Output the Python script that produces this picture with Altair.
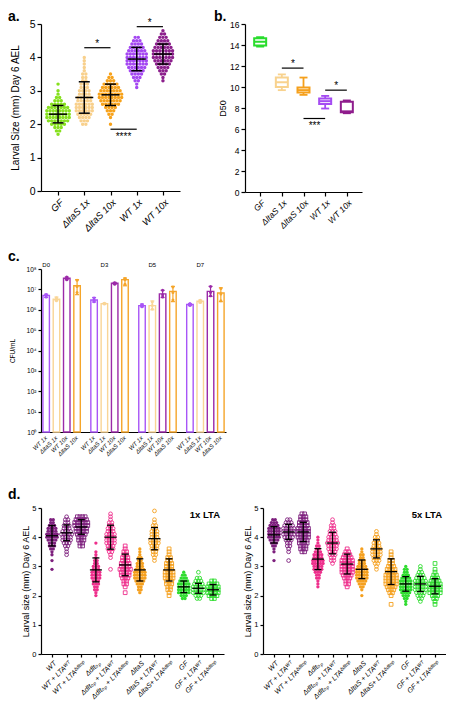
import altair as alt
import pandas as pd

FONT = "Liberation Sans"

# ---------------- panel a : larval size, scatter + mean/SD ----------------
A_GROUPS = ["GF", "ΔltaS 1x", "ΔltaS 10x", "WT 1x", "WT 10x"]
A_COLORS = ["#86e01e", "#f8d08c", "#f7a21b", "#a447f2", "#8c1f8c"]
A_BIN_START = [1.7, 2.0, 2.0, 3.1, 3.3]          # first 0.1-wide value bin per group
A_COUNTS = [
    [1, 2, 3, 5, 7, 8, 8, 8, 7, 5, 3, 2, 1, 1, 0, 1],
    [2, 3, 4, 5, 6, 6, 6, 5, 5, 4, 4, 3, 3, 2, 2, 2, 1, 1, 1, 1, 1],
    [1, 0, 1, 2, 3, 4, 6, 7, 8, 8, 7, 6, 5, 3, 2, 1],
    [1, 1, 2, 3, 4, 5, 6, 7, 7, 7, 7, 6, 5, 4, 3, 2],
    [1, 1, 2, 3, 4, 5, 6, 7, 7, 7, 6, 5, 4, 3, 2, 1],
]
A_MEAN = [2.30, 2.80, 2.88, 3.95, 4.10]
A_SD = [0.26, 0.47, 0.32, 0.35, 0.30]
A_SIG_FROM = ["ΔltaS 1x", "WT 1x", "ΔltaS 10x"]
A_SIG_TO = ["ΔltaS 10x", "WT 10x", "WT 1x"]
A_SIG_Y = [4.29, 4.92, 1.85]
A_SIG_TEXT_Y = [4.40, 5.03, 1.62]
A_SIG_LABEL = ["*", "*", "****"]

# ---------------- panel b : D50 box plots ----------------
B_COLORS = ["#29dc2c", "#f8d28e", "#f5a01c", "#a54cf2", "#8f1d8d"]
B_MIN = [13.85, 9.70, 9.25, 7.95, 7.50]
B_Q1 = [13.95, 10.00, 9.48, 8.38, 7.60]
B_MED = [14.30, 10.45, 9.70, 8.65, 7.68]
B_Q3 = [14.65, 10.90, 9.95, 8.90, 8.60]
B_MAX = [14.75, 11.20, 10.90, 9.15, 8.72]
B_SIG_FROM = ["ΔltaS 1x", "WT 1x", "ΔltaS 10x"]
B_SIG_TO = ["ΔltaS 10x", "WT 10x", "WT 1x"]
B_SIG_Y = [11.8, 9.7, 7.0]
B_SIG_TEXT_Y = [12.2, 10.1, 6.3]
B_SIG_LABEL = ["*", "*", "***"]

# ---------------- panel c : CFU/mL over days ----------------
C_DAYS = ["D0", "D3", "D5", "D7"]
C_STRAINS = ["WT 1x", "ΔltaS 1x", "WT 10x", "ΔltaS 10x"]
C_COLORS = ["#a855f7", "#f9d596", "#9b2aa8", "#f5a52a"]
C_DAY_ANCHOR = ["WT 1x", "ΔltaS 1x", "ΔltaS 1x", "ΔltaS 1x"]
C_MEAN = [5.0e6, 3.3e6, 3.5e7, 1.5e7, 3.0e6, 2.0e6, 2.0e7, 3.0e7,
          1.6e6, 1.6e6, 6.0e6, 8.0e6, 1.8e6, 2.6e6, 8.0e6, 6.6e6]
C_LO = [4.0e6, 2.8e6, 3.0e7, 5.5e6, 2.4e6, 1.9e6, 1.8e7, 1.5e7,
        1.4e6, 1.0e6, 4.0e6, 2.5e6, 1.6e6, 2.2e6, 4.5e6, 2.5e6]
C_HI = [5.8e6, 4.2e6, 4.0e7, 3.0e7, 4.0e6, 2.1e6, 2.2e7, 3.6e7,
        1.9e6, 2.7e6, 9.0e6, 1.4e7, 2.0e6, 3.0e6, 1.4e7, 1.2e7]
C_REP1 = [4.2e6, 2.8e6, 3.0e7, 7.0e6, 2.5e6, 1.9e6, 1.8e7, 1.8e7,
          1.4e6, 1.1e6, 4.2e6, 3.0e6, 1.6e6, 2.3e6, 4.8e6, 2.8e6]
C_REP2 = [5.0e6, 3.3e6, 3.5e7, 1.4e7, 2.9e6, 2.0e6, 2.0e7, 3.0e7,
          1.6e6, 1.6e6, 5.5e6, 7.0e6, 1.8e6, 2.6e6, 7.0e6, 6.0e6]
C_REP3 = [5.6e6, 3.9e6, 4.0e7, 2.8e7, 3.8e6, 2.1e6, 2.1e7, 3.4e7,
          1.8e6, 2.4e6, 9.0e6, 1.3e7, 2.0e6, 2.9e6, 1.4e7, 1.1e7]

# ---------------- panel d : LTA supplementation ----------------
D_GROUPS = ["WT", "WT + LTAᵂᵀ", "WT + LTAᵟᵈˡᵗᵒᵖ",
            "Δdltₒₚ", "Δdltₒₚ + LTAᵂᵀ", "Δdltₒₚ + LTAᵟᵈˡᵗᵒᵖ",
            "ΔltaS", "ΔltaS + LTAᵂᵀ", "ΔltaS+ LTAᵟᵈˡᵗᵒᵖ",
            "GF", "GF + LTAᵂᵀ", "GF + LTAᵟᵈˡᵗᵒᵖ"]
D_COLORS = ["#7d1f7d", "#7d1f7d", "#7d1f7d", "#ee2f8c", "#ee2f8c", "#ee2f8c",
            "#f5a01f", "#f5a01f", "#f5a01f", "#2fdc2f", "#2fdc2f", "#2fdc2f"]
D_MARKERS = ["filled", "circle", "square", "filled", "circle", "square",
             "filled", "circle", "square", "filled", "circle", "square"]

D1_START = [2.9, 3.4, 3.7, 2.0, 2.9, 2.1, 2.1, 3.2, 2.0, 1.9, 1.9, 1.9]
D1_COUNTS = [
    [1, 0, 0, 1, 0, 1, 1, 2, 3, 3, 4, 5, 5, 4, 4, 3, 2, 2],
    [1, 1, 1, 2, 3, 4, 4, 5, 4, 3, 3, 2, 2, 1],
    [2, 2, 3, 3, 4, 5, 5, 6, 6, 5, 4],
    [1, 1, 2, 2, 3, 3, 4, 4, 4, 3, 3, 2, 2, 1, 1, 1, 0, 0, 1],
    [1, 0, 0, 0, 1, 1, 2, 3, 3, 4, 4, 4, 4, 3, 3, 2, 2, 1, 1, 1],
    [1, 0, 1, 2, 2, 3, 4, 4, 5, 4, 4, 3, 3, 2, 2, 1, 1],
    [1, 2, 2, 3, 4, 5, 5, 5, 4, 3, 3, 2, 2, 1, 1, 1],
    [1, 1, 2, 2, 3, 3, 4, 4, 3, 3, 3, 2, 2, 1, 1, 0, 0, 1],
    [1, 1, 2, 2, 3, 3, 4, 4, 4, 3, 3, 3, 2, 2, 1, 1, 1],
    [2, 3, 5, 5, 5, 5, 4, 3, 2, 1],
    [2, 3, 5, 5, 5, 4, 3, 2, 0, 1],
    [2, 4, 5, 5, 5, 4, 2],
]
D1_MEAN = [4.05, 4.15, 4.35, 2.88, 4.00, 3.05, 2.88, 3.95, 2.88, 2.30, 2.25, 2.20]
D1_SD = [0.35, 0.27, 0.25, 0.41, 0.41, 0.37, 0.38, 0.38, 0.38, 0.20, 0.17, 0.18]

D5_START = [3.2, 3.2, 3.5, 2.3, 3.1, 2.3, 2.0, 2.9, 1.7, 1.7, 1.8, 1.7]
D5_COUNTS = [
    [1, 0, 0, 1, 1, 2, 3, 4, 5, 5, 5, 5, 4, 3, 2],
    [1, 0, 0, 1, 1, 2, 2, 3, 4, 5, 5, 5, 4, 3, 2],
    [2, 3, 3, 4, 4, 5, 5, 5, 5, 4, 4, 3, 3, 2],
    [1, 1, 1, 2, 2, 3, 4, 4, 5, 5, 4, 4, 3, 2, 2, 1, 1, 1],
    [1, 2, 2, 3, 3, 4, 4, 5, 4, 4, 3, 3, 2, 2, 1, 1],
    [1, 2, 2, 3, 4, 5, 5, 5, 5, 5, 4, 3, 2, 1],
    [1, 0, 1, 2, 3, 4, 5, 5, 5, 5, 4, 3, 3, 2, 2, 1, 1],
    [1, 1, 2, 3, 3, 4, 4, 4, 3, 3, 2, 2, 1, 1],
    [1, 0, 0, 1, 2, 3, 4, 5, 5, 5, 5, 4, 4, 3, 2, 2, 1, 1, 1],
    [1, 1, 2, 3, 4, 5, 5, 5, 5, 4, 3, 2, 2, 1],
    [1, 2, 3, 4, 5, 5, 5, 5, 4, 3, 2, 1, 1],
    [1, 1, 2, 3, 5, 5, 5, 5, 4, 3, 2, 1, 1, 0, 1],
]
D5_MEAN = [4.08, 4.18, 4.18, 3.25, 3.80, 3.08, 2.90, 3.60, 2.82, 2.40, 2.40, 2.32]
D5_SD = [0.28, 0.26, 0.33, 0.36, 0.37, 0.34, 0.32, 0.31, 0.44, 0.25, 0.26, 0.26]


# ---------------- helpers ----------------
def swarm(groups, starts, counts, spacing, extra=None):
    """Expand per-bin counts into dots, spreading equal values sideways (dot-plot layout)."""
    rows = []
    for gi, (g, s, cs) in enumerate(zip(groups, starts, counts)):
        for i, n in enumerate(cs):
            v = round(s + 0.1 * i, 2)
            for j in range(n):
                r = {"group": g, "value": v, "off": (j - (n - 1) / 2) * spacing}
                if extra:
                    for k, vals in extra.items():
                        r[k] = vals[gi]
                rows.append(r)
    return pd.DataFrame(rows)


def letter(txt, x, y, opacity=1.0):
    return alt.Chart(pd.DataFrame({"t": [txt]})).mark_text(
        align="left", baseline="top", fontSize=14, fontWeight="bold", font=FONT,
        color="black", opacity=opacity
    ).encode(text="t:N", x=alt.value(x), y=alt.value(y))


def mean_sd_layers(stat, x_enc, yscale, yaxis, mean_size, cap_size, thick):
    def Y(f):
        return alt.Y(f, scale=yscale, axis=yaxis)
    rule = alt.Chart(stat).mark_rule(color="black", strokeWidth=thick).encode(
        x=x_enc, y=Y("lo:Q"), y2="hi:Q")
    mean = alt.Chart(stat).mark_tick(color="black", orient="horizontal", size=mean_size,
                                     thickness=thick, opacity=1).encode(x=x_enc, y=Y("mean:Q"))
    cap_lo = alt.Chart(stat).mark_tick(color="black", orient="horizontal", size=cap_size,
                                       thickness=thick, opacity=1).encode(x=x_enc, y=Y("lo:Q"))
    cap_hi = alt.Chart(stat).mark_tick(color="black", orient="horizontal", size=cap_size,
                                       thickness=thick, opacity=1).encode(x=x_enc, y=Y("hi:Q"))
    return [rule, mean, cap_lo, cap_hi]


LX = -33   # letter x offset from plot origin (all left panels share the same origin)

# ================= panel a =================
W_A, H_A = 139, 167
a_pts = swarm(A_GROUPS, A_BIN_START, A_COUNTS, 3.2)
a_stat = pd.DataFrame({"group": A_GROUPS, "mean": A_MEAN,
                       "lo": [m - s for m, s in zip(A_MEAN, A_SD)],
                       "hi": [m + s for m, s in zip(A_MEAN, A_SD)]})
a_sig = pd.DataFrame({"group": A_SIG_FROM, "group2": A_SIG_TO, "y": A_SIG_Y,
                      "ty": A_SIG_TEXT_Y, "label": A_SIG_LABEL})

xs_a = alt.Scale(type="point", domain=A_GROUPS, padding=0.65)
ys_a = alt.Scale(domain=[0, 5], nice=False)
xax_a = alt.Axis(title=None, labelAngle=-45, labelFontStyle="italic",
                 labelFontSize=9.5, tickSize=4, labelPadding=2, labelOverlap=False)
yax_a = alt.Axis(values=[0, 1, 2, 3, 4, 5], format="d",
                 title="Larval Size (mm) Day 6 AEL", titleFontSize=10,
                 titleX=-26, titleBaseline="middle",
                 labelFontSize=10.5, tickSize=4, labelPadding=2)
xa = alt.X("group:N", scale=xs_a, axis=xax_a)
a_col = alt.Color("group:N", scale=alt.Scale(domain=A_GROUPS, range=A_COLORS), legend=None)
a_points = alt.Chart(a_pts).mark_circle(size=12, opacity=1).encode(
    x=xa, xOffset=alt.XOffset("off:Q", scale=None),
    y=alt.Y("value:Q", scale=ys_a, axis=yax_a), color=a_col)
a_sig_rule = alt.Chart(a_sig).mark_rule(color="black", strokeWidth=1.2).encode(
    x=xa, x2="group2:N", y=alt.Y("y:Q", scale=ys_a, axis=yax_a))
a_sig_text = alt.Chart(a_sig).mark_text(dx=13, fontSize=10, font=FONT, color="black",
                                        baseline="middle").encode(
    x=xa, y=alt.Y("ty:Q", scale=ys_a, axis=yax_a), text="label:N")
panel_a = alt.layer(
    a_points, *mean_sd_layers(a_stat, xa, ys_a, yax_a, 18, 11, 1.5),
    a_sig_rule, a_sig_text, letter("a.", LX, -14)
).properties(width=W_A, height=H_A)

# ================= panel b =================
W_B, H_B = 117, 168
b_df = pd.DataFrame({"group": A_GROUPS, "mn": B_MIN, "q1": B_Q1, "med": B_MED,
                     "q3": B_Q3, "mx": B_MAX})
b_sig = pd.DataFrame({"group": B_SIG_FROM, "group2": B_SIG_TO, "y": B_SIG_Y,
                      "ty": B_SIG_TEXT_Y, "label": B_SIG_LABEL})
xs_b = alt.Scale(type="point", domain=A_GROUPS, padding=0.7)
ys_b = alt.Scale(domain=[0, 16], nice=False)
xax_b = alt.Axis(title=None, labelAngle=-45, labelFontStyle="italic",
                 labelFontSize=8.5, tickSize=4, labelPadding=2, labelOverlap=False)
yax_b = alt.Axis(values=list(range(0, 17, 2)), title="D50", titleFontSize=9,
                 titleX=-22.5, titleBaseline="middle", labelFontSize=8.5,
                 tickSize=4, labelPadding=2)
xb = alt.X("group:N", scale=xs_b, axis=xax_b)


def Yb(f):
    return alt.Y(f, scale=ys_b, axis=yax_b)


b_stroke = alt.Stroke("group:N", scale=alt.Scale(domain=A_GROUPS, range=B_COLORS), legend=None)
b_col = alt.Color("group:N", scale=alt.Scale(domain=A_GROUPS, range=B_COLORS), legend=None)
b_whisk = alt.Chart(b_df).mark_rule(strokeWidth=1.8).encode(
    x=xb, y=Yb("mn:Q"), y2="mx:Q", stroke=b_stroke)
b_cap_lo = alt.Chart(b_df).mark_tick(orient="horizontal", size=8, thickness=1.8, opacity=1).encode(
    x=xb, y=Yb("mn:Q"), color=b_col)
b_cap_hi = alt.Chart(b_df).mark_tick(orient="horizontal", size=8, thickness=1.8, opacity=1).encode(
    x=xb, y=Yb("mx:Q"), color=b_col)
b_box = alt.Chart(b_df).mark_bar(size=12, fill="white", strokeWidth=2).encode(
    x=xb, y=Yb("q1:Q"), y2="q3:Q", stroke=b_stroke)
b_med = alt.Chart(b_df).mark_tick(orient="horizontal", size=12, thickness=2, opacity=1).encode(
    x=xb, y=Yb("med:Q"), color=b_col)
b_sig_rule = alt.Chart(b_sig).mark_rule(color="black", strokeWidth=1.2).encode(
    x=xb, x2="group2:N", y=Yb("y:Q"))
b_sig_text = alt.Chart(b_sig).mark_text(dx=11, fontSize=10, font=FONT, color="black",
                                        baseline="middle").encode(
    x=xb, y=Yb("ty:Q"), text="label:N")
panel_b = alt.layer(b_whisk, b_cap_lo, b_cap_hi, b_box, b_med, b_sig_rule, b_sig_text,
                    letter("b.", -31, -14)).properties(width=W_B, height=H_B)

# ================= panel c =================
W_C, H_C = 185, 163
c_rows, c_reps = [], []
for di, d in enumerate(C_DAYS):
    for si, s in enumerate(C_STRAINS):
        k = di * 4 + si
        c_rows.append({"day": d, "strain": s, "mean": C_MEAN[k], "lo": C_LO[k], "hi": C_HI[k]})
        for rep in (C_REP1, C_REP2, C_REP3):
            c_reps.append({"day": d, "strain": s, "v": rep[k]})
c_df = pd.DataFrame(c_rows)
c_rep_df = pd.DataFrame(c_reps)
c_lab = pd.DataFrame({"day": C_DAYS, "strain": C_DAY_ANCHOR, "label": C_DAYS})

xs_c = alt.Scale(domain=C_DAYS, paddingInner=0.14, paddingOuter=0)
xo_c = alt.Scale(domain=C_STRAINS, paddingInner=0.37, paddingOuter=0.185)
ys_c = alt.Scale(type="log", domain=[1, 1e8], nice=False)
sup = "['⁰','¹','²','³','⁴','⁵','⁶','⁷','⁸','⁹']"
yax_c = alt.Axis(values=[1, 10, 100, 1e3, 1e4, 1e5, 1e6, 1e7, 1e8],
                 labelExpr="'10' + " + sup + "[round(log(datum.value)/LN10)]",
                 title="CFU/mL", titleFontSize=6.5, titleX=-29,
                 titleBaseline="middle", labelFontSize=6.5, tickSize=3, labelPadding=2)
xc = alt.X("day:N", scale=xs_c, axis=alt.Axis(title=None, labels=False, ticks=False))
xoc = alt.XOffset("strain:N", scale=xo_c)


def Yc(f):
    return alt.Y(f, scale=ys_c, axis=yax_c)


c_stroke = alt.Stroke("strain:N", scale=alt.Scale(domain=C_STRAINS, range=C_COLORS), legend=None)
c_col = alt.Color("strain:N", scale=alt.Scale(domain=C_STRAINS, range=C_COLORS), legend=None)
c_bars = alt.Chart(c_df).mark_bar(fill="white", strokeWidth=1.4).encode(
    x=xc, xOffset=xoc, y=Yc("mean:Q"), y2=alt.datum(1), stroke=c_stroke)
c_err = alt.Chart(c_df).mark_rule(strokeWidth=1.2).encode(
    x=xc, xOffset=xoc, y=Yc("lo:Q"), y2="hi:Q", color=c_col)
c_cap = alt.Chart(c_df).mark_tick(orient="horizontal", size=4, thickness=1.2, opacity=1).encode(
    x=xc, xOffset=xoc, y=Yc("hi:Q"), color=c_col)
c_cap2 = alt.Chart(c_df).mark_tick(orient="horizontal", size=4, thickness=1.2, opacity=1).encode(
    x=xc, xOffset=xoc, y=Yc("lo:Q"), color=c_col)
c_dots = alt.Chart(c_rep_df).mark_circle(size=9, opacity=1).encode(
    x=xc, xOffset=xoc, y=Yc("v:Q"), color=c_col)
c_xlab = alt.Chart(c_df).mark_text(angle=315, align="right", baseline="middle", fontSize=6,
                                   fontStyle="italic", font=FONT, color="black").encode(
    x=xc, xOffset=xoc, y=alt.value(H_C + 5), text="strain:N")
c_dlab = alt.Chart(c_lab).mark_text(baseline="bottom", fontSize=6, font=FONT, color="black").encode(
    x=xc, xOffset=xoc, y=alt.value(-1), text="label:N")
panel_c = alt.layer(c_bars, c_err, c_cap, c_cap2, c_dots, c_xlab, c_dlab,
                    letter("c.", LX, -19)).properties(width=W_C, height=H_C)

# ================= panel d =================
W_D, H_D = 183, 146


def panel_d(starts, counts, means, sds, tag, let_x, let_op):
    pts = swarm(D_GROUPS, starts, counts, 2.6, extra={"marker": D_MARKERS})
    stat = pd.DataFrame({"group": D_GROUPS, "mean": means,
                         "lo": [m - s for m, s in zip(means, sds)],
                         "hi": [m + s for m, s in zip(means, sds)]})
    xs = alt.Scale(type="point", domain=D_GROUPS, padding=0.75)
    ys = alt.Scale(domain=[0, 5], nice=False)
    xax = alt.Axis(title=None, labelAngle=-45, labelFontStyle="italic", labelOverlap=False,
                   labelFontSize=7, tickSize=3, labelPadding=2, labelLimit=200)
    yax = alt.Axis(values=[0, 1, 2, 3, 4, 5], format="d",
                   title="Larval size (mm) Day 6 AEL", titleFontSize=9,
                   titleX=-16, titleBaseline="middle", labelFontSize=7.5,
                   tickSize=3, labelPadding=2)
    xd = alt.X("group:N", scale=xs, axis=xax)
    yd = alt.Y("value:Q", scale=ys, axis=yax)
    col = alt.Color("group:N", scale=alt.Scale(domain=D_GROUPS, range=D_COLORS), legend=None)
    filled = alt.Chart(pts).transform_filter(alt.datum.marker == "filled").mark_circle(
        size=11, opacity=1).encode(x=xd, xOffset=alt.XOffset("off:Q", scale=None), y=yd, color=col)
    openm = alt.Chart(pts).transform_filter(alt.datum.marker != "filled").mark_point(
        filled=False, size=14, strokeWidth=0.9, opacity=1).encode(
        x=xd, xOffset=alt.XOffset("off:Q", scale=None), y=yd, color=col,
        shape=alt.Shape("marker:N", scale=alt.Scale(domain=["circle", "square"],
                                                    range=["circle", "square"]), legend=None))
    tag_t = alt.Chart(pd.DataFrame({"t": [tag]})).mark_text(
        align="right", baseline="middle", fontSize=9.5, fontWeight="bold", font=FONT,
        color="black").encode(text="t:N", x=alt.value(W_D - 4), y=alt.value(7))
    return alt.layer(filled, openm,
                     *mean_sd_layers(stat, xd, ys, yax, 12, 7, 1.3),
                     tag_t, letter("d.", let_x, -20, let_op)).properties(width=W_D, height=H_D)


panel_d1 = panel_d(D1_START, D1_COUNTS, D1_MEAN, D1_SD, "1x LTA", LX, 1.0)
panel_d2 = panel_d(D5_START, D5_COUNTS, D5_MEAN, D5_SD, "5x LTA", 0, 0.0)

IND = dict(color="independent", stroke="independent", shape="independent")
row1 = alt.hconcat(panel_a, panel_b, spacing=34).resolve_scale(**IND)
row3 = alt.hconcat(panel_d1, panel_d2, spacing=19).resolve_scale(**IND)
lower = alt.vconcat(panel_c, row3, spacing=30).resolve_scale(**IND)

chart = alt.vconcat(row1, lower, spacing=17).resolve_scale(**IND).properties(
    padding={"left": 0, "top": 2, "right": 0, "bottom": 0}, background="white"
).configure_view(stroke=None).configure_axis(
    grid=False, domainColor="black", tickColor="black", labelColor="black",
    titleColor="black", labelFont=FONT, titleFont=FONT, titleFontWeight="normal",
    domainWidth=1.2, tickWidth=1.2
)

chart.save("out.html", embed_options={"renderer": "svg", "actions": False})
